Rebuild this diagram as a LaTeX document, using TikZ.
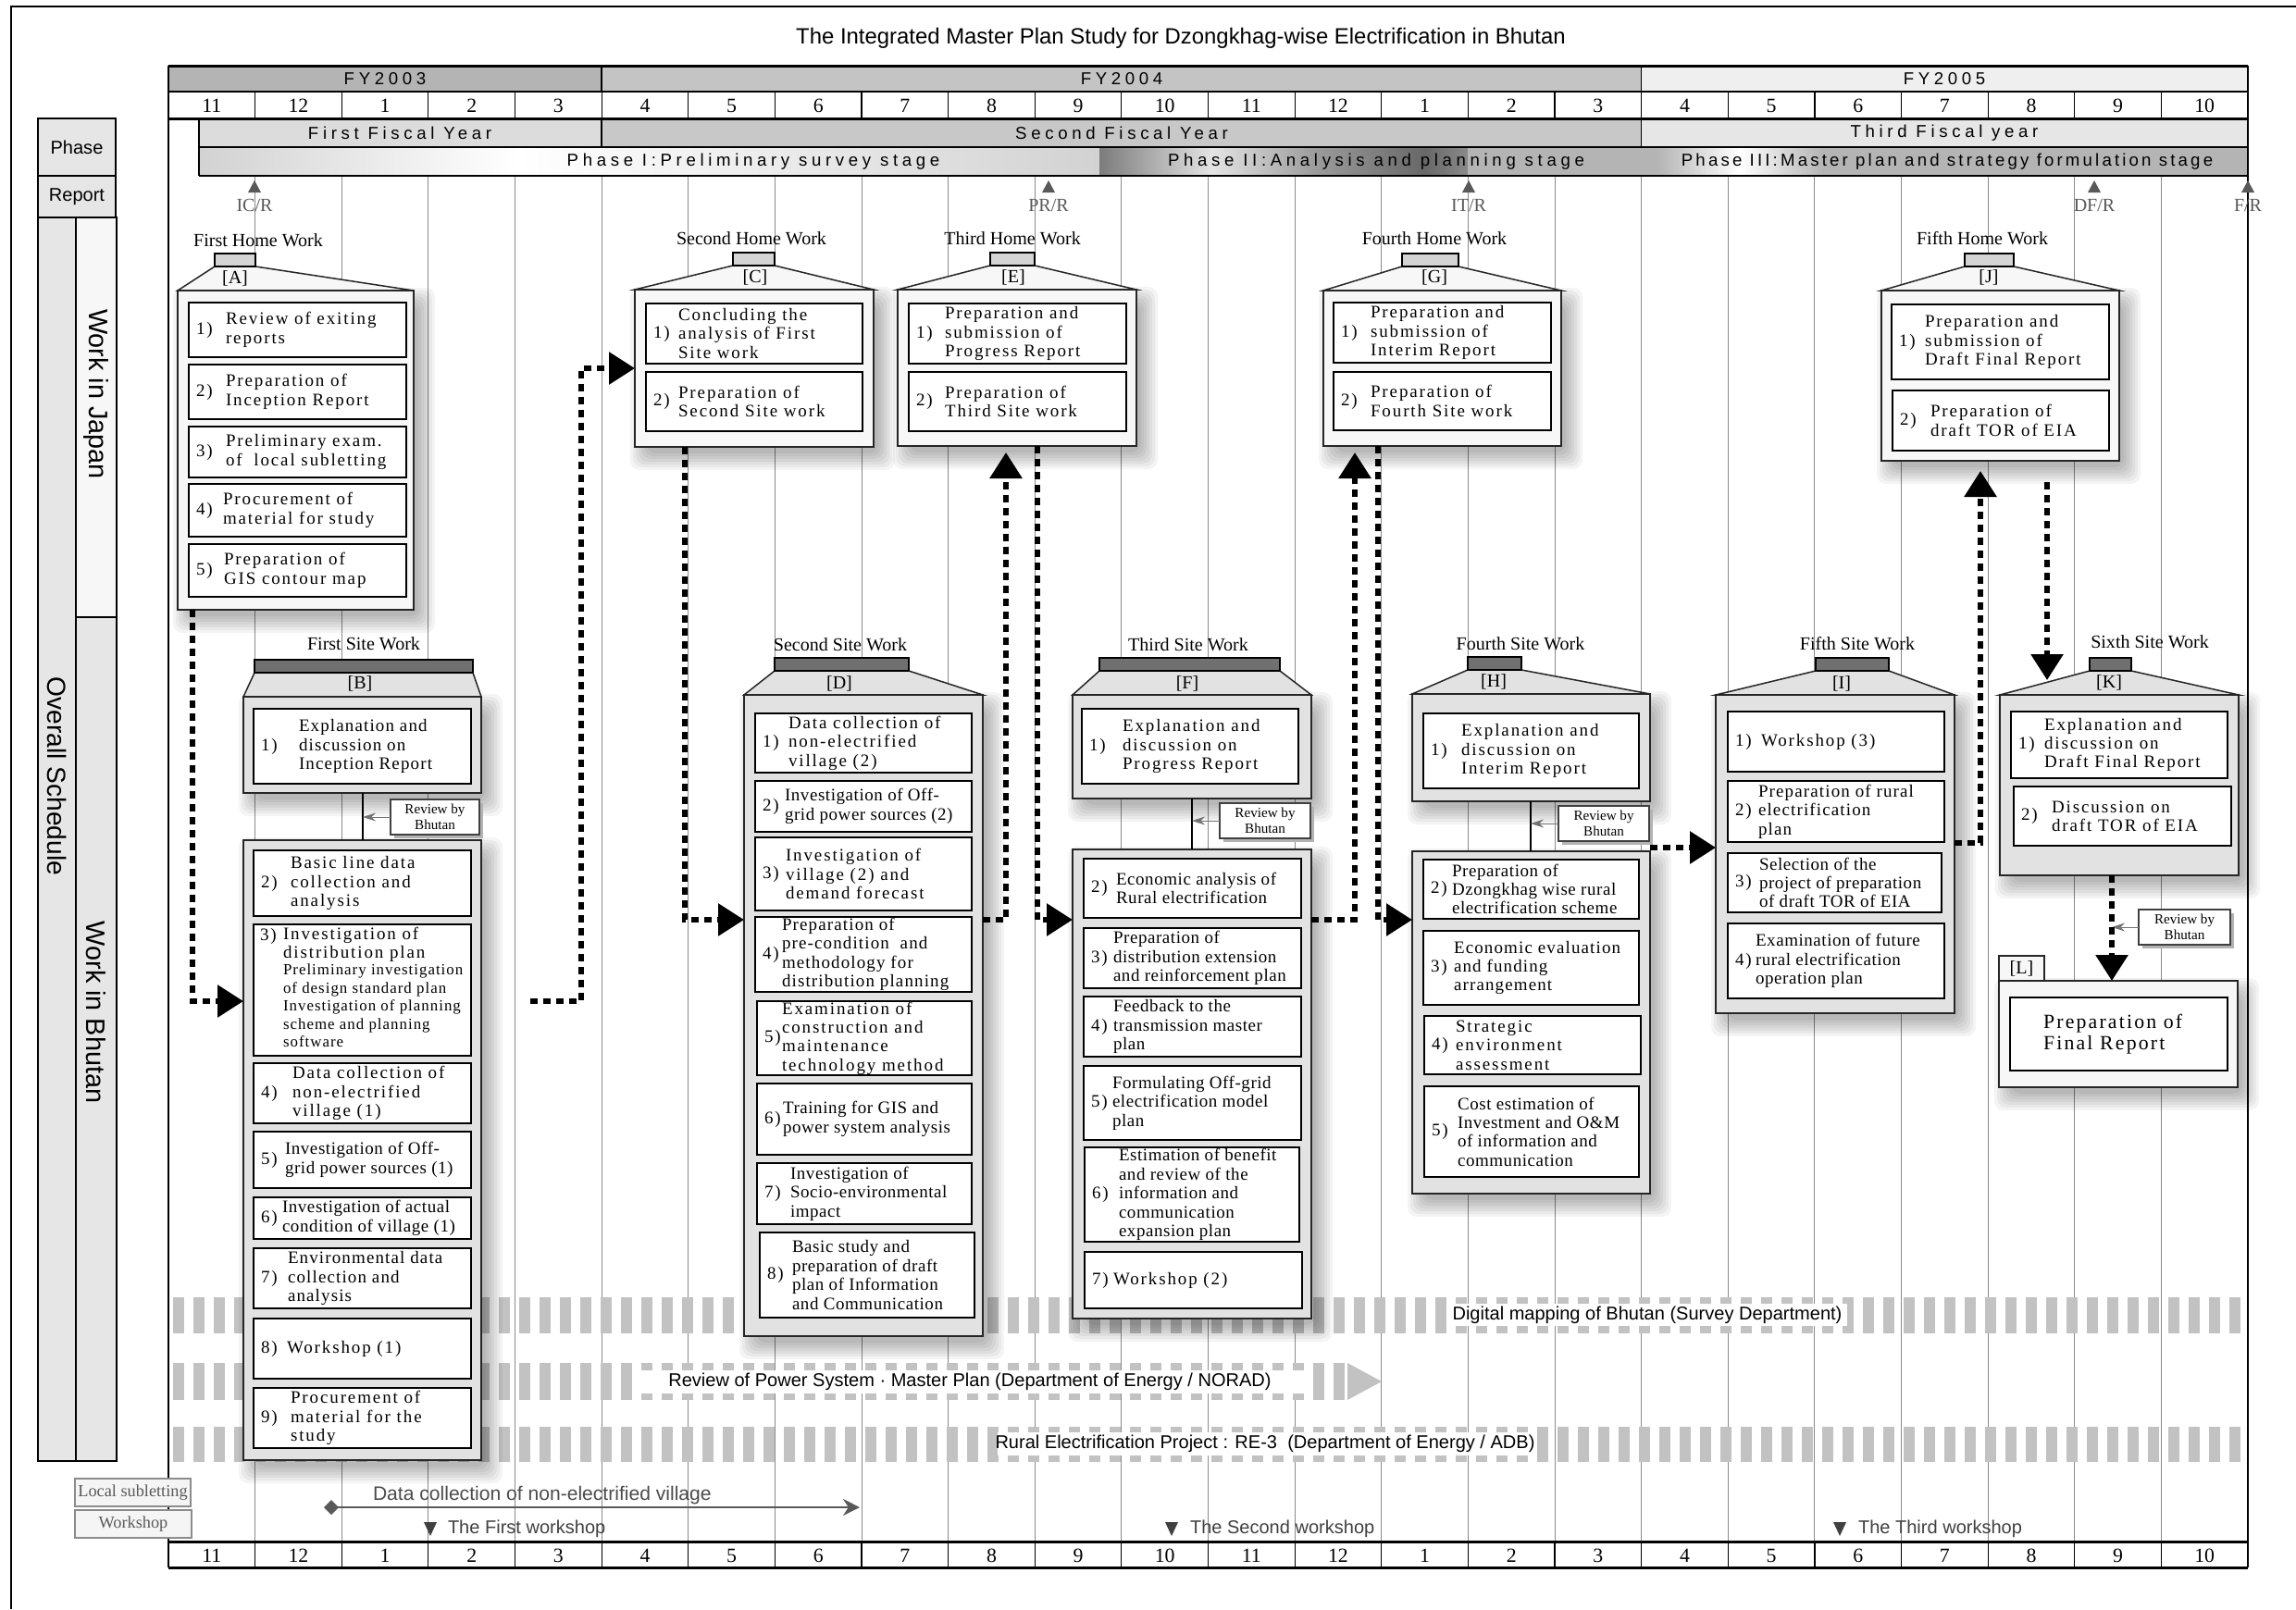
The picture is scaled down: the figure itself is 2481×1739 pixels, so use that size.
\documentclass[tikz,border=0pt]{standalone}
\usepackage{fontspec}
\setmainfont{Liberation Serif}
\setsansfont{Liberation Sans}
\newfontfamily\bxf[LetterSpace=10]{Liberation Serif}
\newfontfamily\bxm[LetterSpace=6]{Liberation Serif}
\newfontfamily\bxn[LetterSpace=3]{Liberation Serif}
\newfontfamily\hdf[LetterSpace=25]{Liberation Sans}
\newfontfamily\hdg[LetterSpace=17]{Liberation Sans}
\usetikzlibrary{fit,arrows.meta}

\definecolor{fyA}{HTML}{B4B4B4}
\definecolor{fyB}{HTML}{C4C4C4}
\definecolor{fyC}{HTML}{EFEFEF}
\definecolor{fisA}{HTML}{DCDCDC}
\definecolor{fisB}{HTML}{C8C8C8}
\definecolor{fisC}{HTML}{E6E6E6}
\definecolor{lblfill}{HTML}{E6E6E6}
\definecolor{homefill}{HTML}{F7F7F7}
\definecolor{sitefill}{HTML}{E2E2E2}
\definecolor{hometab}{HTML}{D4D4D4}
\definecolor{sitetab}{HTML}{707070}
\definecolor{bandc}{HTML}{C2C2C2}
\definecolor{gridc}{HTML}{8A8A8A}
\definecolor{phA}{HTML}{D2D2D2}
\definecolor{phIIa}{HTML}{7C7C7C}
\definecolor{phIIb}{HTML}{E4E4E4}
\definecolor{phIIc}{HTML}{9C9C9C}
\definecolor{phIId}{HTML}{686868}
\definecolor{phIIe}{HTML}{8A8A8A}
\definecolor{phIII}{HTML}{B4B4B4}

\newcommand\shad[4]{\foreach \s in {-4,-1,2,5,8,11,14}{\fill[black,opacity=0.045,rounded corners=1mm] ({#1+9-(\s)},{#2+11-(\s)}) rectangle ({#3+9+\s},{#4+11+\s});}}
\newcommand\roofbx[8]{%
  \shad{#2}{#3}{#4}{#5}%
  \filldraw[fill=#8fill, draw=black!85, line width=0.15mm] (#6,#3-26) -- (#2,#3) -- (#4,#3) -- (#7,#3-26) -- cycle;%
  \node[fit={(#2,#3)(#4,#5)}, draw=black!85, line width=0.2mm, fill=#8fill] (#1) {};%
  \node[fit={(#6,#3-40)(#7,#3-26)}, draw=black, line width=0.2mm, fill=#8tab] (#1tab) {};%
}
\newcommand\plainbx[6]{%
  \shad{#2}{#3}{#4}{#5}%
  \node[fit={(#2,#3)(#4,#5)}, draw=black!85, line width=0.2mm, fill=#6] (#1) {};%
}
% name, x1, y1, x2, y2, number, text offset, font family, text
\newcommand\itm[9]{%
  \node[itembox, fit={(#2,#3)(#4,#5)}] (#1) {};%
  \node[bxtxt, anchor=west] (#1n) at ({#2+8},{(#3+#5)/2}) {#6};%
  \node[bxtxt, font=#8\fontsize{5.4pt}{5.8pt}\selectfont, anchor=west] (#1t) at ({#2+#7},{(#3+#5)/2}) {#9};%
}
\newcommand\revbx[5]{%
  \fill[black!30] ({#2+4},{#3+4}) rectangle ({#4+4},{#5+4});%
  \node[revbox, fit={(#2,#3)(#4,#5)}] (#1) {};%
  \node[revtxt] (#1t) at (#1) {Review by\\Bhutan};%
}
\newcommand\rpt[3]{%
  \fill[black!65] (#1,195) -- ({#1+7},208) -- ({#1-7},208) -- cycle;%
  \node[wtxt, text=black!65] (#3) at (#1,222) {#2};%
}

\begin{document}
\begin{tikzpicture}[x=0.1mm,y=-0.1mm,
  every node/.style={inner sep=0pt, outer sep=0pt},
  bxtxt/.style={font=\bxf\fontsize{5.4pt}{5.8pt}\selectfont, align=left},
  smtxt/.style={font=\bxm\fontsize{4.8pt}{5.55pt}\selectfont, align=left},
  bigtxt/.style={font=\bxf\fontsize{6.2pt}{6.5pt}\selectfont, align=left},
  itembox/.style={draw=black, line width=0.15mm, fill=white},
  wtxt/.style={font=\fontsize{5.7pt}{6pt}\selectfont},
  hdtxt/.style={font=\hdf\fontsize{5.3pt}{6pt}\selectfont},
  sftxt/.style={font=\sffamily\fontsize{5.7pt}{6pt}\selectfont},
  mtxt/.style={font=\fontsize{6.2pt}{6.2pt}\selectfont},
  revbox/.style={draw=black!75, line width=0.12mm, fill=white},
  revtxt/.style={font=\fontsize{4.3pt}{3.9pt}\selectfont, align=center},
  conn/.style={line width=0.6mm, dash pattern=on 0.8mm off 0.6mm, -{Triangle[width=3.4mm,length=2.8mm]}},
  revarrow/.style={draw=black!55, line width=0.1mm, -{Stealth[length=1.4mm,width=0.9mm]}},
]
\useasboundingbox (0,0) rectangle (2481,1739);
\fill[white] (0,0) rectangle (2481,1739);
\draw[line width=0.25mm] (12,1739) -- (12,7) -- (2481,7);

% title
\node[font=\sffamily\fontsize{6.8pt}{7pt}\selectfont] (title) at (1276,41) {The Integrated Master Plan Study for Dzongkhag-wise Electrification in Bhutan};

% header fills
\fill[fyA] (182,71) rectangle (650,99);
\fill[fyB] (650,71) rectangle (1773.6,99);
\fill[fyC] (1773.6,71) rectangle (2429,99);
\fill[fisA] (215,128) rectangle (650,159);
\fill[fisB] (650,128) rectangle (1773.6,159);
\fill[fisC] (1773.6,128) rectangle (2429,159);
% phase row shading
\shade[left color=phA, right color=white] (215,159) rectangle (560,190);
\shade[left color=white, right color=phA] (560,159) rectangle (1188,190);
\shade[left color=phIIa, right color=phIIb] (1188,159) rectangle (1310,190);
\shade[left color=phIIb, right color=phIIc] (1310,159) rectangle (1420,190);
\shade[left color=phIIc, right color=phIId] (1420,159) rectangle (1540,190);
\shade[left color=phIId, right color=phIIe] (1540,159) rectangle (1586,190);
\fill[phIII] (1586,159) rectangle (1790,190);
\shade[left color=phIII, right color=white] (1790,159) rectangle (1880,190);
\shade[left color=white, right color=phIII] (1880,159) rectangle (1970,190);
\fill[phIII] (1970,159) rectangle (2429,190);

\node[hdtxt] (fy3) at (416,85) {FY2003};
\node[hdtxt] (fy4) at (1212,85) {FY2004};
\node[hdtxt] (fy5) at (2101,85) {FY2005};
\node[hdtxt] (fis1) at (432,144) {First Fiscal Year};
\node[hdtxt] (fis2) at (1212,144) {Second Fiscal Year};
\node[hdtxt] (fis3) at (2101,144) {Third Fiscal year};
\node[hdtxt] (ph1) at (814,175) {Phase I:Preliminary survey stage};
\node[hdtxt] (ph2) at (1487,175) {Phase II:Analysis and planning stage};
\node[hdtxt, font=\hdg\fontsize{5.3pt}{6pt}\selectfont] (ph3) at (2104,175) {Phase III:Master plan and strategy formulation stage};

% months
\foreach \m [count=\i from 0] in {11,12,1,2,3,4,5,6,7,8,9,10,11,12,1,2,3,4,5,6,7,8,9,10}{
  \node[mtxt] (mt\i) at ({182+93.625*(\i+0.5)},114) {\m};
  \node[mtxt] (mb\i) at ({182+93.625*(\i+0.5)},1681) {\m};
}
\foreach \i in {1,...,23}{
  \draw[line width=0.12mm] ({182+93.625*\i},99) -- ++(0,29);
  \draw[line width=0.12mm] ({182+93.625*\i},1666) -- ++(0,28);
  \draw[gridc, line width=0.1mm] ({182+93.625*\i},190) -- ({182+93.625*\i},1666);
}
% header lines
\draw[line width=0.3mm] (182,71) -- (2429,71);
\draw[line width=0.15mm] (182,99) -- (2429,99);
\draw[line width=0.3mm] (182,128) -- (2429,128);
\draw[line width=0.15mm] (215,159) -- (2429,159);
\draw[line width=0.2mm] (215,190) -- (2429,190);
\draw[line width=0.15mm] (650,71) -- (650,99) (1773.6,71) -- (1773.6,99);
\draw[line width=0.12mm] (650,128) -- (650,159) (1773.6,128) -- (1773.6,159) (215,128) -- (215,190);
\draw[line width=0.25mm] (182,71) -- (182,1694);
\draw[line width=0.2mm] (2429,71) -- (2429,1694);
\draw[line width=0.3mm] (182,1666) -- (2429,1666);
\draw[line width=0.3mm] (182,1694) -- (2429,1694);

% left labels
\node[fit={(41,128)(125,190)}, draw, line width=0.25mm, fill=lblfill] (phbox) {};
\node[sftxt] (phtxt) at (phbox) {Phase};
\node[fit={(41,190)(125,235)}, draw, line width=0.25mm, fill=lblfill] (rpbox) {};
\node[sftxt] (rptxt) at (rpbox) {Report};
\node[fit={(41,235)(82,1579)}, draw, line width=0.25mm, fill=lblfill] (osbox) {};
\node[rotate=-90, font=\sffamily\fontsize{8pt}{8pt}\selectfont] (ostxt) at (62,839) {Overall Schedule};
\node[fit={(82,235)(126,667)}, draw, line width=0.25mm, fill=homefill] (wjbox) {};
\node[rotate=-90, font=\sffamily\fontsize{8.2pt}{8pt}\selectfont] (wjtxt) at (104,426) {Work in Japan};
\node[fit={(82,667)(126,1579)}, draw, line width=0.25mm, fill=lblfill] (wbbox) {};
\node[rotate=-90, font=\sffamily\fontsize{8.2pt}{8pt}\selectfont] (wbtxt) at (104,1094) {Work in Bhutan};

% reports
\rpt{275}{IC/R}{icr}
\rpt{1133}{PR/R}{prr}
\rpt{1587}{IT/R}{itr}
\rpt{2263}{DF/R}{dfr}
\rpt{2429}{F/R}{fr}

% bands
\draw[bandc, line width=3.9mm, dash pattern=on 1.2mm off 1mm] (187,1421.5) -- (2429,1421.5);
\draw[bandc, line width=4mm, dash pattern=on 1.2mm off 1mm] (187,1493) -- (1456,1493);
\fill[bandc] (1456,1473) -- (1493,1493) -- (1456,1513) -- cycle;
\draw[bandc, line width=3.8mm, dash pattern=on 1.2mm off 1mm] (187,1561) -- (2429,1561);
\fill[white] (1565,1409) rectangle (1996,1433);
\fill[white] (684,1481) rectangle (1413,1506);
\fill[white] (1078,1548) rectangle (1657,1573);
\node[sftxt] (band1) at (1780,1421) {Digital mapping of Bhutan (Survey Department)};
\node[sftxt] (band2) at (1048,1493) {Review of Power System · Master Plan (Department of Energy / NORAD)};
\node[sftxt] (band3) at (1367,1560) {Rural Electrification Project : RE-3\ \ (Department of Energy / ADB)};

% ===== Box A
\roofbx{A}{192}{314}{447}{659}{232}{276}{home}
\node[wtxt] (Alet) at (254,301) {[A]};
\node[wtxt] (Alab) at (279,260) {First Home Work};
\itm{Ai1}{204}{327}{439}{386}{1)}{40}{\bxf}{Review of exiting\\reports}
\itm{Ai2}{204}{394}{439}{453}{2)}{40}{\bxf}{Preparation of\\Inception Report}
\itm{Ai3}{204}{461}{439}{516}{3)}{40}{\bxf}{Preliminary exam.\\of\hspace{0.6mm} local subletting}
\itm{Ai4}{204}{523}{439}{580}{4)}{37}{\bxf}{Procurement of\\material for study}
\itm{Ai5}{204}{588}{439}{645}{5)}{38}{\bxf}{Preparation of\\GIS contour map}

% ===== Box B
\roofbx{B1}{263}{753}{520}{857}{275}{511}{site}
\node[wtxt] (Blet) at (389,739) {[B]};
\node[wtxt] (Blab) at (393,696) {First Site Work};
\itm{Bi1}{274}{766}{509}{847}{1)}{49}{\bxm}{Explanation and\\discussion on\\Inception Report}
\plainbx{B2}{263}{908}{520}{1578}{sitefill}
\itm{Bi2}{274}{919}{509}{990}{2)}{40}{\bxf}{Basic line data\\collection and\\analysis}
\node[itembox, fit={(274,999)(509,1141)}] (Bi3) {};
\node[bxtxt, anchor=north west] (Bi3n) at (281,1003) {3)};
\node[bxtxt, anchor=north west] (Bi3t) at (306,1002) {Investigation of\\distribution plan};
\node[smtxt, anchor=north west] (Bi3s) at (306,1042) {Preliminary investigation\\of design standard plan\\Investigation of planning\\scheme and planning\\software};
\itm{Bi4}{274}{1149}{509}{1214}{4)}{42}{\bxf}{Data collection of\\non-electrified\\village (1)}
\itm{Bi5}{274}{1223}{509}{1284}{5)}{34}{\bxn}{Investigation of Off-\\grid power sources (1)}
\itm{Bi6}{274}{1294}{509}{1339}{6)}{31}{\bxn}{Investigation of actual\\condition of village (1)}
\itm{Bi7}{274}{1349}{509}{1414}{7)}{37}{\bxm}{Environmental data\\collection and\\analysis}
\itm{Bi8}{274}{1425}{509}{1490}{8)}{36}{\bxf}{Workshop (1)}
\itm{Bi9}{274}{1500}{509}{1565}{9)}{40}{\bxf}{Procurement of\\material for the\\study}
\coordinate (rbx) at (392,0);
\draw[line width=0.15mm] (B1.south -| rbx) -- (B2.north -| rbx);
\revbx{RB}{422}{864}{518}{902}
\draw[revarrow] (RB.west) -- (RB.west -| rbx);

% ===== Box C
\roofbx{C}{686}{313}{944}{483}{792}{837}{home}
\node[wtxt] (Clet) at (816,300) {[C]};
\node[wtxt] (Clab) at (812,258) {Second Home Work};
\itm{Ci1}{698}{328}{932}{393}{1)}{35}{\bxf}{Concluding the\\analysis of First\\Site work}
\itm{Ci2}{698}{402}{932}{466}{2)}{35}{\bxf}{Preparation of\\Second Site work}

% ===== Box E
\roofbx{E}{970}{313}{1228}{482}{1070}{1118}{home}
\node[wtxt] (Elet) at (1095,300) {[E]};
\node[wtxt] (Elab) at (1094,258) {Third Home Work};
\itm{Ei1}{982}{328}{1217}{393}{1)}{39}{\bxf}{Preparation and\\submission of\\Progress Report}
\itm{Ei2}{982}{402}{1217}{466}{2)}{39}{\bxf}{Preparation of\\Third Site work}

% ===== Box D
\roofbx{D}{804}{751}{1062}{1444}{837}{982}{site}
\node[wtxt] (Dlet) at (907,739) {[D]};
\node[wtxt] (Dlab) at (908,697) {Second Site Work};
\itm{Di1}{816}{771}{1050}{835}{1)}{36}{\bxf}{Data collection of\\non-electrified\\village (2)}
\itm{Di2}{816}{844}{1050}{899}{2)}{32}{\bxn}{Investigation of Off-\\grid power sources (2)}
\itm{Di3}{816}{905}{1050}{984}{3)}{33}{\bxf}{Investigation of\\village (2) and\\demand forecast}
\itm{Di4}{816}{991}{1050}{1072}{4)}{29}{\bxm}{Preparation of\\pre-condition~ and\\methodology for\\distribution planning}
\itm{Di5}{818}{1082}{1050}{1162}{5)}{27}{\bxf}{Examination of\\construction and\\maintenance\\technology method}
\itm{Di6}{818}{1171}{1050}{1248}{6)}{28}{\bxn}{Training for GIS and\\power system analysis}
\itm{Di7}{818}{1257}{1050}{1323}{7)}{36}{\bxn}{Investigation of\\Socio-environmental\\impact}
\itm{Di8}{821}{1332}{1053}{1424}{8)}{35}{\bxn}{Basic study and\\preparation of draft\\plan of Information\\and Communication}

% ===== Box F
\roofbx{F1}{1159}{751}{1417}{863}{1188}{1383}{site}
\node[wtxt] (Flet) at (1283,739) {[F]};
\node[wtxt] (Flab) at (1284,697) {Third Site Work};
\itm{Fi1}{1169}{766}{1403}{847}{1)}{44}{\bxf}{Explanation and\\discussion on\\Progress Report}
\plainbx{F2}{1159}{918}{1417}{1425}{sitefill}
\itm{Fi2}{1171}{928}{1406}{992}{2)}{35}{\bxn}{Economic analysis of\\Rural electrification}
\itm{Fi3}{1171}{1003}{1406}{1068}{3)}{32}{\bxn}{Preparation of\\distribution extension\\and reinforcement plan}
\itm{Fi4}{1171}{1077}{1406}{1142}{4)}{32}{\bxn}{Feedback to the\\transmission master\\plan}
\itm{Fi5}{1171}{1152}{1406}{1232}{5)}{31}{\bxn}{Formulating Off-grid\\electrification model\\plan}
\itm{Fi6}{1172}{1240}{1404}{1342}{6)}{37}{\bxn}{Estimation of benefit\\and review of the\\information and\\communication\\expansion plan}
\itm{Fi7}{1172}{1353}{1407}{1414}{7)}{31}{\bxf}{Workshop (2)}
\coordinate (rfx) at (1288,0);
\draw[line width=0.15mm] (F1.south -| rfx) -- (F2.north -| rfx);
\revbx{RF}{1318}{868}{1416}{906}
\draw[revarrow] (RF.west) -- (RF.west -| rfx);

% ===== Box G
\roofbx{G}{1430}{314}{1687}{482}{1515}{1576}{home}
\node[wtxt] (Glet) at (1550,300) {[G]};
\node[wtxt] (Glab) at (1550,258) {Fourth Home Work};
\itm{Gi1}{1441}{327}{1676}{392}{1)}{40}{\bxf}{Preparation and\\submission of\\Interim Report}
\itm{Gi2}{1441}{402}{1676}{465}{2)}{40}{\bxf}{Preparation of\\Fourth Site work}

% ===== Box H
\roofbx{H1}{1526}{750}{1783}{866}{1586}{1644}{site}
\node[wtxt] (Hlet) at (1614,737) {[H]};
\node[wtxt] (Hlab) at (1643,696) {Fourth Site Work};
\itm{Hi1}{1538}{771}{1771}{852}{1)}{41}{\bxf}{Explanation and\\discussion on\\Interim Report}
\plainbx{H2}{1526}{920}{1783}{1290}{sitefill}
\itm{Hi2}{1538}{929}{1771}{993}{2)}{31}{\bxn}{Preparation of\\Dzongkhag wise rural\\electrification scheme}
\itm{Hi3}{1538}{1006}{1771}{1086}{3)}{33}{\bxm}{Economic evaluation\\and funding\\arrangement}
\itm{Hi4}{1539}{1098}{1773}{1161}{4)}{34}{\bxf}{Strategic\\environment\\assessment}
\itm{Hi5}{1539}{1174}{1771}{1272}{5)}{36}{\bxn}{Cost estimation of\\Investment and O\&M\\of information and\\communication}
\coordinate (rhx) at (1654,0);
\draw[line width=0.15mm] (H1.south -| rhx) -- (H2.north -| rhx);
\revbx{RH}{1684}{871}{1782}{909}
\draw[revarrow] (RH.west) -- (RH.west -| rhx);

% ===== Box I
\roofbx{I}{1854}{751}{2112}{1095}{1962}{2041}{site}
\node[wtxt] (Ilet) at (1990,739) {[I]};
\node[wtxt] (Ilab) at (2007,696) {Fifth Site Work};
\itm{Ii1}{1867}{769}{2101}{834}{1)}{36}{\bxf}{Workshop (3)}
\itm{Ii2}{1867}{844}{2101}{910}{2)}{33}{\bxm}{Preparation of rural\\electrification\\plan}
\itm{Ii3}{1867}{922}{2098}{986}{3)}{34}{\bxn}{Selection of the\\project of preparation\\of draft TOR of EIA}
\itm{Ii4}{1867}{998}{2101}{1079}{4)}{30}{\bxn}{Examination of future\\rural electrification\\operation plan}

% ===== Box J
\roofbx{J}{2033}{314}{2290}{498}{2123}{2176}{home}
\node[wtxt] (Jlet) at (2149,300) {[J]};
\node[wtxt] (Jlab) at (2142,258) {Fifth Home Work};
\itm{Ji1}{2044}{329}{2279}{410}{1)}{36}{\bxf}{Preparation and\\submission of\\Draft Final Report}
\itm{Ji2}{2045}{422}{2279}{487}{2)}{41}{\bxf}{Preparation of\\draft TOR of EIA}

% ===== Box K
\roofbx{K}{2161}{751}{2419}{946}{2258}{2303}{site}
\node[wtxt] (Klet) at (2279,738) {[K]};
\node[wtxt] (Klab) at (2323,694) {Sixth Site Work};
\itm{Ki1}{2173}{769}{2407}{841}{1)}{36}{\bxf}{Explanation and\\discussion on\\Draft Final Report}
\itm{Ki2}{2176}{850}{2411}{914}{2)}{41}{\bxf}{Discussion on\\draft TOR of EIA}

% ===== Box L
\plainbx{L}{2160}{1060}{2418}{1175}{homefill}
\node[fit={(2160,1033)(2209,1060)}, draw=black!85, line width=0.15mm, fill=homefill] (Ltab) {};
\node[wtxt] (Llet) at (Ltab) {[L]};
\node[itembox, fit={(2172,1078)(2407,1157)}] (Li1) {};
\node[bigtxt, anchor=west] (Li1t) at (2208,1117.5) {Preparation of\\Final Report};

\coordinate (k1) at (2282,1000);
\revbx{RK}{2311}{983}{2410}{1021}
\draw[revarrow] (RK.west) -- (RK.west -| k1);

% ===== connectors
\coordinate (a1) at (208,1082);
\coordinate (b1) at (573,1082);
\coordinate (b2) at (628,1082);
\coordinate (c1) at (740,994);
\coordinate (d1) at (1087,994);
\coordinate (e1) at (1121,994);
\coordinate (f1) at (1464,994);
\coordinate (g1) at (1489,994);
\coordinate (h1) at (1790,916);
\coordinate (i1) at (2140,911);
\coordinate (j1) at (2212,521);
\coordinate (j2) at (2212,735);
\draw[conn] (A.south -| a1) -- (a1) -- (B2.west |- a1);
\draw[conn] (b1) -- (b2) |- (C.west);
\draw[conn] (C.south -| c1) -- (c1) -- (D.west |- c1);
\draw[conn, shorten >=0.7mm] (D.east |- d1) -- (d1) -- (E.south -| d1);
\draw[conn] (E.south -| e1) -- (e1) -- (F2.west |- e1);
\draw[conn, shorten >=0.7mm] (F2.east |- f1) -- (f1) -- (G.south -| f1);
\draw[conn] (G.south -| g1) -- (g1) -- (H2.west |- g1);
\draw[conn] (H2.east |- h1) -- (I.west |- h1);
\draw[conn, shorten >=1.1mm] (I.east |- i1) -- (i1) -- (J.south -| i1);
\draw[conn] (j1) -- (j2);
\draw[conn] (K.south -| k1) -- (L.north -| k1);

% ===== bottom legend
\node[fit={(81,1598)(206,1628)}, draw=black!45, line width=0.15mm, fill=black!4] (lsbox) {};
\node[wtxt, text=black!65, font=\fontsize{5.2pt}{6pt}\selectfont] (lstxt) at (lsbox) {Local subletting};
\node[fit={(81,1632)(207,1662)}, draw=black!45, line width=0.15mm, fill=black!4] (wsbox) {};
\node[wtxt, text=black!65, font=\fontsize{5.2pt}{6pt}\selectfont] (wstxt) at (wsbox) {Workshop};
\coordinate (dcs) at (358,1629);
\coordinate (dce) at (929,1629);
\fill[black!65] (350,1629) -- (358,1621) -- (366,1629) -- (358,1637) -- cycle;
\draw[black!65, line width=0.25mm, -{Stealth[length=1.8mm,width=1.8mm]}] (dcs) -- (dce);
\node[sftxt, text=black!70, anchor=west, font=\sffamily\fontsize{6pt}{6pt}\selectfont] (dctxt) at (403,1616) {Data collection of non-electrified village};
\fill[black!75] (458,1645) -- (472,1645) -- (465,1660) -- cycle;
\node[sftxt, text=black!75, anchor=west] (ws1) at (484,1652) {The First workshop};
\fill[black!75] (1259,1645) -- (1273,1645) -- (1266,1660) -- cycle;
\node[sftxt, text=black!75, anchor=west] (ws2) at (1286,1652) {The Second workshop};
\fill[black!75] (1981,1645) -- (1995,1645) -- (1988,1660) -- cycle;
\node[sftxt, text=black!75, anchor=west] (ws3) at (2008,1652) {The Third workshop};
\end{tikzpicture}
\end{document}
